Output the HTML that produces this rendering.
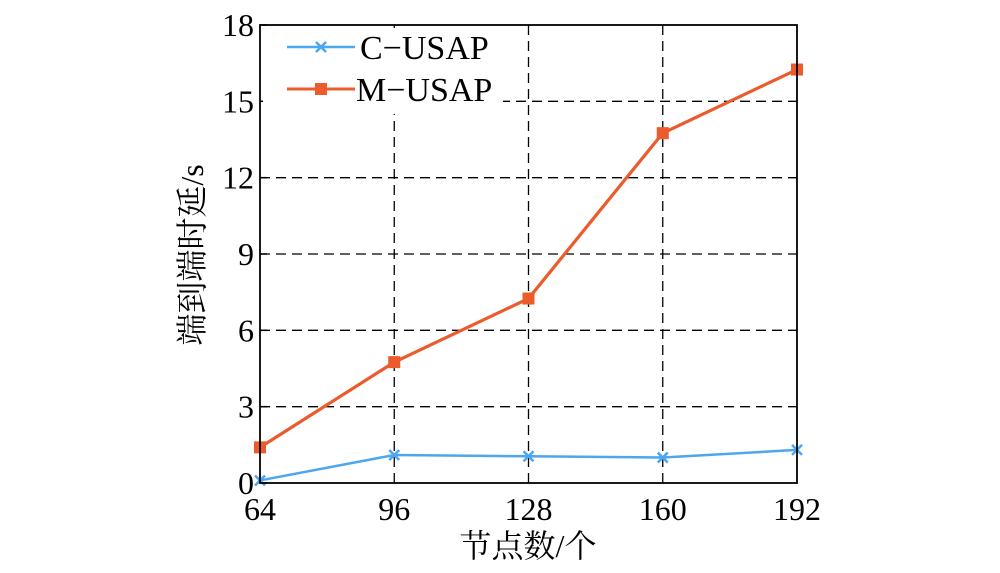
<!DOCTYPE html>
<html><head><meta charset="utf-8"><style>
body{margin:0;background:#fff}
text{font-family:"Liberation Serif","Noto Serif CJK SC",serif;fill:#000}
</style></head><body>
<svg width="1000" height="568" viewBox="0 0 1000 568">
<g id="grid"></g>
<g id="series"></g>
<g id="axes"></g>
<g>
<rect x="263" y="28" width="240" height="86" fill="#fff"/>
<g>
<line x1="287" y1="47" x2="355" y2="47" stroke="#4da6f0" stroke-width="2.5"/>
<path d="M316 42 L326 52 M316 52 L326 42" stroke="#4da6f0" stroke-width="2.5"/>
<text x="360" y="59" font-size="34">C−USAP</text></g>
<g>
<line x1="287" y1="89" x2="355" y2="89" stroke="#ec5b2c" stroke-width="3"/>
<rect x="315" y="83" width="12" height="12" fill="#ec5b2c"/>
<text x="356" y="101" font-size="34">M−USAP</text></g>
</g>
<text transform="translate(203,255) rotate(-90)" text-anchor="middle" font-size="32">端到端时延/s</text>
<text x="528" y="557" text-anchor="middle" font-size="32">节点数/个</text>
</svg>
<script>
const categories=[64,96,128,160,192];
const cUsap=[0.1,1.1,1.05,1.0,1.3];
const mUsap=[1.4,4.75,7.25,13.75,16.25];
const yTicks=[0,3,6,9,12,15,18];
const L=260,R=797,T=25,B=483;
const xs=v=>L+(v-64)/(192-64)*(R-L);
const ys=v=>B-v/18*(B-T);
const NS="http://www.w3.org/2000/svg";
function mk(tag,attrs,parent){const e=document.createElementNS(NS,tag);for(const k in attrs)e.setAttribute(k,attrs[k]);parent.appendChild(e);return e;}
const grid=document.getElementById('grid'),axes=document.getElementById('axes'),ser=document.getElementById('series');
yTicks.forEach(t=>{
 if(t>0&&t<18){const g=mk('line',{x1:L,x2:R,y1:ys(t),y2:ys(t),stroke:'#000','stroke-width':1.3,'stroke-dasharray':'10,6'},grid);
 
 }
 const tl=mk('text',{x:L-6,y:ys(t)+11,'text-anchor':'end','font-size':32},axes);tl.textContent=t;
 
 
 mk('line',{x1:L,x2:L+7,y1:ys(t),y2:ys(t),stroke:'#000','stroke-width':1.5},axes);
});
categories.forEach(c=>{
 if(c>64&&c<192){const g=mk('line',{x1:xs(c),x2:xs(c),y1:T,y2:B,stroke:'#000','stroke-width':1.3,'stroke-dasharray':'10,6'},grid);
 
 }
 const tl=mk('text',{x:xs(c),y:B+37,'text-anchor':'middle','font-size':32},axes);tl.textContent=c;
 
 
});
const fr=mk('rect',{x:L,y:T,width:R-L,height:B-T,fill:'none',stroke:'#000','stroke-width':1.8},axes);


const pc=cUsap.map((v,i)=>xs(categories[i])+','+ys(v)).join(' ');
const lc=mk('polyline',{points:pc,fill:'none',stroke:'#4da6f0','stroke-width':2.5},ser);


cUsap.forEach((v,i)=>{const x=xs(categories[i]),y=ys(v);
 const m=mk('path',{d:`M${x-5} ${y-5}L${x+5} ${y+5}M${x-5} ${y+5}L${x+5} ${y-5}`,stroke:'#4da6f0','stroke-width':2.5},ser);
 
 });
const pm=mUsap.map((v,i)=>xs(categories[i])+','+ys(v)).join(' ');
const lm=mk('polyline',{points:pm,fill:'none',stroke:'#ec5b2c','stroke-width':3.2},ser);


mUsap.forEach((v,i)=>{const x=xs(categories[i]),y=ys(v);
 const m=mk('rect',{x:x-6,y:y-6,width:12,height:12,fill:'#ec5b2c'},ser);
 
 });
</script>
</body></html>
